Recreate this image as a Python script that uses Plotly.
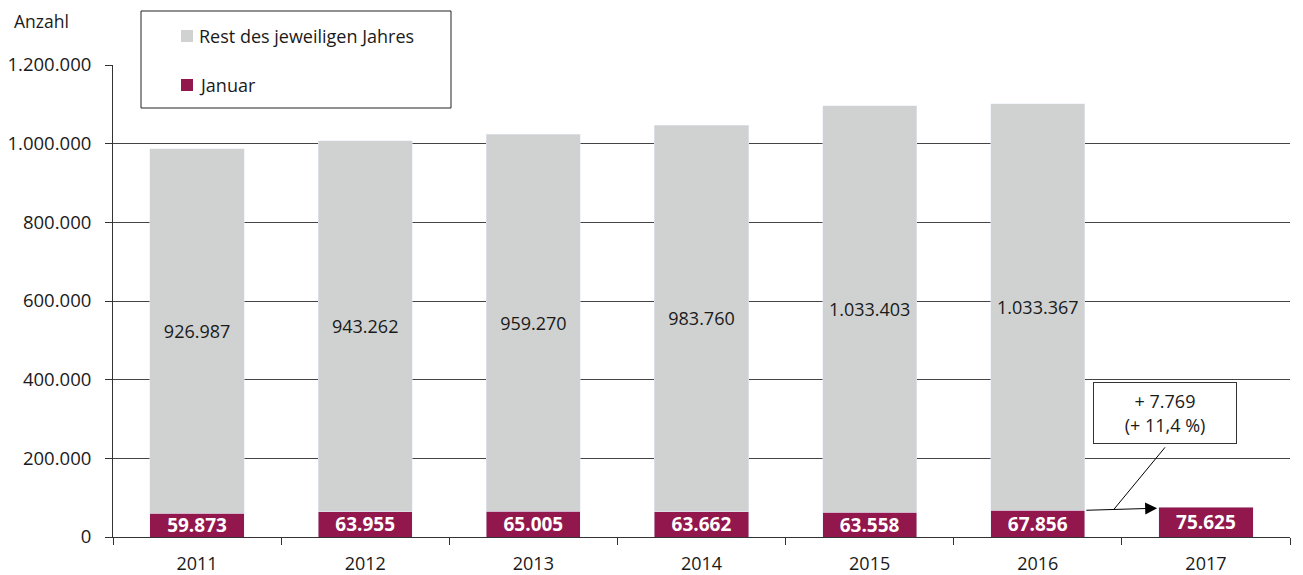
import plotly.graph_objects as go

years = ["2011", "2012", "2013", "2014", "2015", "2016", "2017"]
januar = [59873, 63955, 65005, 63662, 63558, 67856, 75625]
rest = [926987, 943262, 959270, 983760, 1033403, 1033367, None]
y_ticks = [0, 200000, 400000, 600000, 800000, 1000000, 1200000]
legend_names = ["Rest des jeweiligen Jahres", "Januar"]

def de(n):
    return f"{n:,}".replace(",", ".")

diff = januar[-1] - januar[-2]
pct = diff / januar[-2] * 100
diff_text = "+ " + de(diff) + "<br>(+ " + f"{pct:.1f}".replace(".", ",") + " %)"

GRAY = "#D0D2D1"
PURPLE = "#92174D"
FONT = "Open Sans"
TXT = "#1a1a1a"

fig = go.Figure()
fig.add_trace(go.Bar(
    x=years, y=januar, name=legend_names[1], marker_color=PURPLE,
    text=[de(v) for v in januar], textposition="inside", insidetextanchor="middle",
    constraintext="none",
    textfont=dict(color="white", size=19, family=FONT, weight="bold"),
    width=0.56,
))
fig.add_trace(go.Bar(
    x=years, y=rest, name=legend_names[0], marker_color=GRAY,
    text=[de(v) if v is not None else "" for v in rest], textposition="inside",
    insidetextanchor="middle", constraintext="none",
    textfont=dict(color=TXT, size=18, family=FONT),
    width=0.56,
))

# arrow from 2016 January bar to 2017 January bar
fig.add_annotation(
    x=5.71, y=(januar[5] + januar[6]) / 2 + 1500, xref="x", yref="y",
    ax=5.28, ay=januar[5], axref="x", ayref="y",
    showarrow=True, arrowhead=2, arrowsize=2.4, arrowwidth=1, arrowcolor="black",
    text="",
)
# leader line from box to arrow
fig.add_shape(type="line", xref="x", yref="y",
              x0=5.757, y0=228000, x1=5.453, y1=70500,
              line=dict(color="black", width=1))
# difference box
fig.add_annotation(
    x=5.757, y=315000, xref="x", yref="y", showarrow=False,
    text=diff_text, font=dict(size=18, family=FONT, color=TXT),
    bordercolor="#333333", borderwidth=1, bgcolor="white",
    width=140, height=58, align="center",
)

PW, PH = 1177, 472
def px(x):
    return (x - 113) / PW
def py(y):
    return (537 - y) / PH

fig.add_annotation(
    x=px(12), y=py(21), xref="paper", yref="paper", showarrow=False,
    text="Anzahl", xanchor="left", yanchor="middle",
    font=dict(size=17.5, family=FONT, color=TXT),
)

# manual legend
fig.add_shape(type="rect", xref="paper", yref="paper",
              x0=px(141), x1=px(451), y0=py(108), y1=py(11),
              fillcolor="white", line=dict(color="#222222", width=1), layer="above")
for name, col, cy in [(legend_names[0], GRAY, 36), (legend_names[1], PURPLE, 85)]:
    fig.add_shape(type="rect", xref="paper", yref="paper",
                  x0=px(181), x1=px(193), y0=py(cy + 6), y1=py(cy - 6),
                  fillcolor=col, line=dict(width=0), layer="above")
    fig.add_annotation(x=px(197), y=py(cy), xref="paper", yref="paper",
                       showarrow=False, text=name, xanchor="left", yanchor="middle",
                       font=dict(size=18, family=FONT, color=TXT))

fig.update_layout(
    width=1295, height=567,
    margin=dict(l=105, r=13, t=57, b=38),
    barmode="stack",
    separators=",.",
    plot_bgcolor="white", paper_bgcolor="white",
    font=dict(family=FONT, size=18, color=TXT),
    showlegend=False,
    xaxis=dict(
        type="category", showline=True, linecolor="#333333", linewidth=1,
        ticks="outside", tickson="boundaries", ticklen=7, tickcolor="#333333",
        showgrid=False, tickfont=dict(size=18), ticklabelstandoff=10,
        automargin=False,
    ),
    yaxis=dict(
        range=[0, 1200000], tickvals=y_ticks, tickformat=",d",
        showline=True, linecolor="#333333", linewidth=1,
        ticks="outside", ticklen=7, tickcolor="#333333",
        showgrid=True, gridcolor="#444444", gridwidth=1,
        zeroline=False, tickfont=dict(size=18.5), ticklabelstandoff=10,
        automargin=False,
    ),
    bargap=0.44,
)

fig.write_html("out.html")
